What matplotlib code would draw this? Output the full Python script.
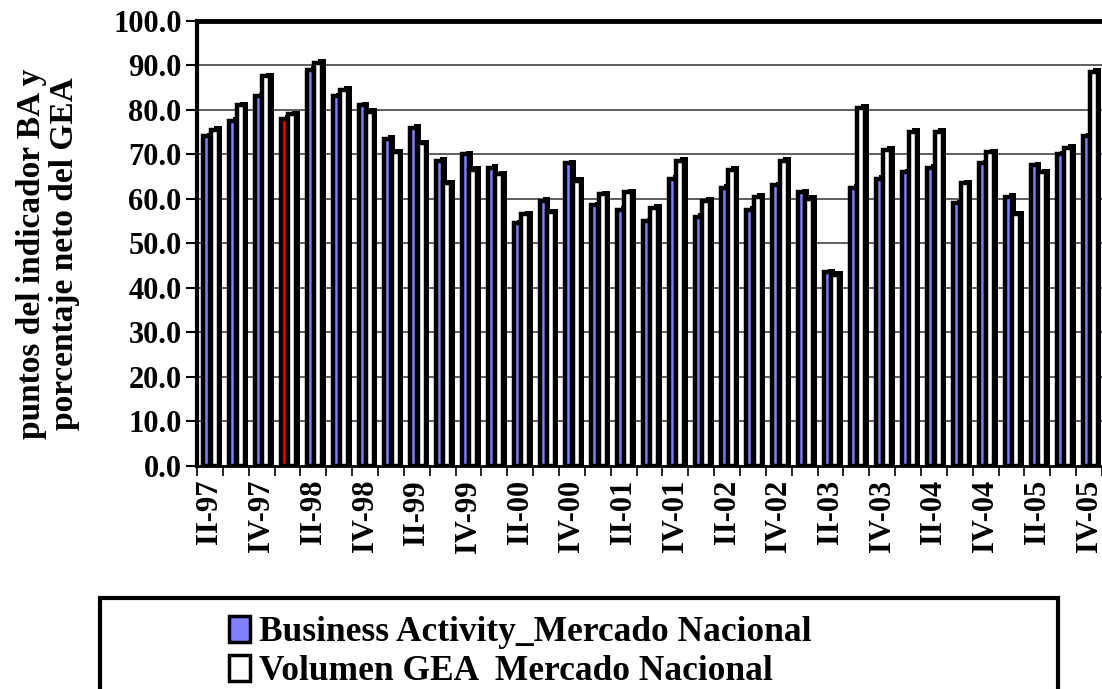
import numpy as np
import matplotlib
matplotlib.use("Agg")
import matplotlib.pyplot as plt
from matplotlib.patches import Patch, Rectangle

plt.rcParams['font.family'] = ['Liberation Serif', 'DejaVu Serif']
plt.rcParams['font.weight'] = 'bold'

quarters = ["II-97", "III-97", "IV-97",
            "I-98", "II-98", "III-98", "IV-98",
            "I-99", "II-99", "III-99", "IV-99",
            "I-00", "II-00", "III-00", "IV-00",
            "I-01", "II-01", "III-01", "IV-01",
            "I-02", "II-02", "III-02", "IV-02",
            "I-03", "II-03", "III-03", "IV-03",
            "I-04", "II-04", "III-04", "IV-04",
            "I-05", "II-05", "III-05", "IV-05"]

business_activity = [74, 77.5, 83, 78, 89, 83, 81, 73.5, 76, 68.5, 70, 67,
                     54.5, 59.5, 68, 58.5, 57.5, 55, 64.5, 56, 62.5, 57.5,
                     63, 61.5, 43.5, 62.5, 64.5, 66, 67, 59, 68, 60.5, 67.5,
                     70, 74]
volumen_gea = [75.5, 81, 87.5, 79, 90.5, 84.5, 79.5, 70.5, 72.5, 63.5, 66.5,
               65.5, 56.5, 57, 64, 61, 61.5, 58, 68.5, 59.5, 66.5, 60.5, 68.5,
               60, 43, 80.5, 71, 75, 75, 63.5, 70.5, 56.5, 66, 71.5, 88.5]
highlight = "I-98"

blue = "#7f7fff"
x = np.arange(len(quarters))

fig = plt.figure(figsize=(11.02, 6.89), dpi=100)
ax = fig.add_axes([197 / 1102, (689 - 466) / 689, 905 / 1102, 445.3 / 689])

# gridlines
for v in range(10, 100, 10):
    ax.axhline(v, color="#333333", lw=1.1, zorder=0)

dx, dy = 0.14, 0.8
colors = [("red" if q == highlight else blue) for q in quarters]

# blue series (3d side then face)
ax.bar(x - 0.25 + dx, np.array(business_activity) + dy, 0.27, align="edge",
       color="black", zorder=2)
ax.bar(x - 0.25, business_activity, 0.27, align="edge", color=colors,
       edgecolor="black", lw=3.2, zorder=3)
# white series
ax.bar(x + 0.03 + dx, np.array(volumen_gea) + dy, 0.31, align="edge",
       color="black", zorder=4)
ax.bar(x + 0.03, volumen_gea, 0.31, align="edge", color="white",
       edgecolor="black", lw=3.2, zorder=5)

ax.set_xlim((197 - 208) / 26, (1102 - 208) / 26)
ax.set_ylim(0, 100)

ax.set_yticks(np.arange(0, 101, 10))
ax.set_yticklabels([f"{v:.1f}" for v in range(0, 101, 10)])
ax.tick_params(axis="y", direction="out", length=8, width=1.5, pad=3,
               labelsize=22)

ax.set_xticks(x[::2])
ax.set_xticklabels(quarters[::2], rotation=90)
ax.set_xticks(np.arange(len(quarters) + 1) - 0.5, minor=True)
ax.tick_params(axis="x", which="major", length=0, pad=10, labelsize=22)
ax.tick_params(axis="x", which="minor", direction="out", length=7, width=1.2)

for lbl in ax.get_xticklabels() + ax.get_yticklabels():
    lbl.set_fontweight("bold")

ax.spines["right"].set_visible(False)
ax.spines["top"].set_linewidth(3.5)
ax.spines["left"].set_linewidth(3)
ax.spines["bottom"].set_linewidth(2)

fig.text(48 / 1102, 1 - 254 / 689,
         "puntos del indicador BA y\nporcentaje neto del GEA",
         rotation=90, ha="center", va="center", fontsize=24,
         fontweight="bold", linespacing=1.1)

# legend box
fig.patches.append(Rectangle((100 / 1102, 1 - 692 / 689), 958 / 1102, 94 / 689,
                             transform=fig.transFigure, fill=False,
                             edgecolor="black", lw=3))
handles = [Patch(facecolor=blue, edgecolor="black", lw=2.5),
           Patch(facecolor="white", edgecolor="black", lw=2.5)]
fig.legend(handles, ["Business Activity_Mercado Nacional",
                     "Volumen GEA  Mercado Nacional"],
           loc="upper left", bbox_to_anchor=(229 / 1102, 1 - 616 / 689),
           frameon=False, prop={"size": 25.5, "weight": "bold"},
           handlelength=0.6, handleheight=0.75, handletextpad=0.25,
           labelspacing=0.15, borderaxespad=0, borderpad=0)

fig.savefig("out.png", dpi=100)
